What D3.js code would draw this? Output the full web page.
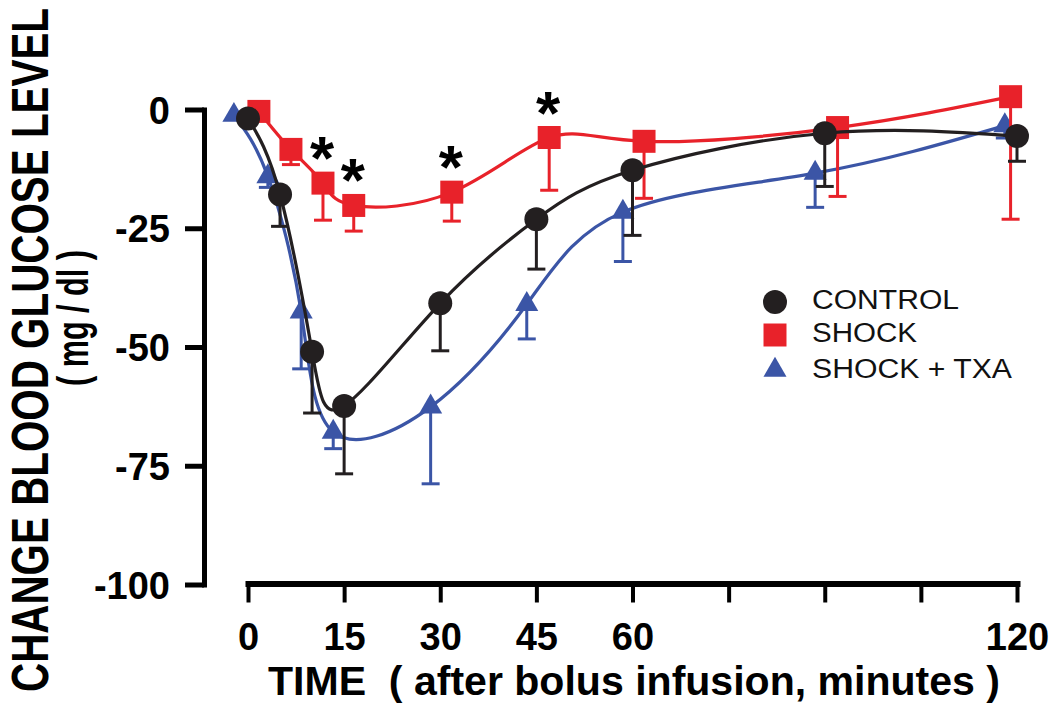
<!DOCTYPE html>
<html><head><meta charset="utf-8">
<script src="https://cdn.jsdelivr.net/npm/d3@7"></script>
<style>
body{margin:0;background:#fff}
svg{display:block}
text{font-family:"Liberation Sans",Arial,Helvetica,sans-serif}
</style>
</head><body>
<svg id="chart" width="1050" height="706"></svg>
<script>
// ---- data ----
const xTicks = [0, 15, 30, 45, 60, 75, 90, 105, 120];
const xTickLabels = ["0", "15", "30", "45", "60", "", "", "", "120"];
const yTicks = [0, -25, -50, -75, -100];
const yTickLabels = ["0", "-25", "-50", "-75", "-100"];
const seriesNames = ["CONTROL", "SHOCK", "SHOCK + TXA"];

const controlTime = [0, 5, 10, 15, 30, 45, 60, 90, 120];
const controlMean = [-1.9, -17.9, -51, -62.4, -40.8, -23.1, -12.8, -5, -5.6];
const controlSem  = [0, 6.7, 12.9, 14.3, 10, 10.5, 13.7, 11.2, 5.3];

const shockTime = [1.7, 6.7, 11.7, 16.5, 31.8, 47, 61.8, 92, 119];
const shockMean = [-0.4, -8.4, -15.5, -20.2, -17.4, -5.9, -6.7, -3.8, 2.7];
const shockSem  = [0, 3.2, 7.8, 5.4, 6.1, 11.1, 12, 14.5, 25.8];

const txaTime = [-2.2, 3.1, 8.3, 13.3, 28.5, 43.5, 58.5, 88.5, 118.1];
const txaMean = [-1.2, -14.1, -42.6, -67.9, -62.6, -41, -21.6, -13.4, -3.4];
const txaSem  = [0, 2.3, 12, 3.5, 16.2, 7.3, 10.4, 7.2, 2.6];

const sigShockIdx = [2, 3, 4, 5];   // points marked with *

const xTitle = "TIME  ( after bolus infusion, minutes )";
const yTitle1 = "CHANGE BLOOD GLUCOSE LEVEL";
const yTitle2 = "( mg / dl )";

// ---- drawing ----
const svg = d3.select("#chart");
const black = "#231f20", red = "#e8222a", blue = "#3b55a6";

const x = d3.scaleLinear().domain([0, 120]).range([248, 1017]);
const y = d3.scaleLinear().domain([0, -100]).range([109.5, 584.5]);

// y axis
const yAxis = svg.append("g").attr("transform", "translate(204,0)")
  .call(d3.axisLeft(y).tickValues(yTicks).tickSize(19).tickSizeOuter(0)
    .tickFormat((d, i) => yTickLabels[i]));
yAxis.select(".domain").attr("stroke", "#000").attr("stroke-width", 5).attr("stroke-linecap", "square");
yAxis.selectAll(".tick line").attr("stroke", "#000").attr("stroke-width", 5);
yAxis.selectAll(".tick text").attr("x", -34).attr("dy", "0.36em")
  .attr("font-size", 38).attr("font-weight", "bold").attr("fill", "#000")
  .style("font-family", '"Liberation Sans",Arial,sans-serif');

// x axis
const xAxis = svg.append("g").attr("transform", "translate(0,583.5)")
  .call(d3.axisBottom(x).tickValues(xTicks).tickSize(19).tickSizeOuter(0)
    .tickFormat((d, i) => xTickLabels[i]));
xAxis.select(".domain").attr("stroke", "#000").attr("stroke-width", 6).attr("stroke-linecap", "square");
xAxis.selectAll(".tick line").attr("stroke", "#000").attr("stroke-width", 4);
xAxis.selectAll(".tick text").attr("y", 66.5).attr("dy", 0)
  .attr("font-size", 38).attr("font-weight", "bold").attr("fill", "#000")
  .style("font-family", '"Liberation Sans",Arial,sans-serif');

// titles
svg.append("text").attr("x", 268).attr("y", 695)
  .attr("font-size", 40).attr("font-weight", "bold").attr("fill", "#000")
  .attr("textLength", 732).attr("lengthAdjust", "spacingAndGlyphs")
  .style("white-space", "pre").text(xTitle);

svg.append("text").attr("transform", "translate(48,350) rotate(-90)")
  .attr("text-anchor", "middle").attr("font-size", 51).attr("font-weight", "bold").attr("fill", "#000")
  .attr("textLength", 684).attr("lengthAdjust", "spacingAndGlyphs")
  .text(yTitle1);
svg.append("text").attr("transform", "translate(88,318) rotate(-90)")
  .attr("text-anchor", "middle").attr("font-size", 44).attr("font-weight", "bold").attr("fill", "#000")
  .attr("textLength", 136).attr("lengthAdjust", "spacingAndGlyphs")
  .text(yTitle2);

// series
const series = [
  {name: seriesNames[2], t: txaTime, m: txaMean, s: txaSem, color: blue, sym: d3.symbolTriangle, size: 230},
  {name: seriesNames[1], t: shockTime, m: shockMean, s: shockSem, color: red, sym: d3.symbolSquare, size: 529},
  {name: seriesNames[0], t: controlTime, m: controlMean, s: controlSem, color: black, sym: d3.symbolCircle, size: 452},
];

const line = d3.line().x(d => x(d.t)).y(d => y(d.m)).curve(d3.curveNatural);

series.forEach(S => {
  const pts = S.t.map((t, i) => ({t, m: S.m[i], s: S.s[i]}));
  const g = svg.append("g");
  g.append("path").datum(pts).attr("d", line)
    .attr("fill", "none").attr("stroke", S.color).attr("stroke-width", 3.2);
  const eb = g.selectAll(".eb").data(pts.filter(p => p.s > 0)).join("g");
  eb.append("line").attr("x1", d => x(d.t)).attr("x2", d => x(d.t))
    .attr("y1", d => y(d.m)).attr("y2", d => y(d.m - d.s))
    .attr("stroke", S.color).attr("stroke-width", 3);
  eb.append("line").attr("x1", d => x(d.t) - 9).attr("x2", d => x(d.t) + 9)
    .attr("y1", d => y(d.m - d.s)).attr("y2", d => y(d.m - d.s))
    .attr("stroke", S.color).attr("stroke-width", 3);
  g.selectAll(".mk").data(pts).join("path")
    .attr("transform", d => `translate(${x(d.t)},${y(d.m)})`)
    .attr("d", d3.symbol(S.sym, S.size)).attr("fill", S.color);
});

// significance asterisks
svg.selectAll(".star").data(sigShockIdx).join("text")
  .attr("x", i => x(shockTime[i]) - 1).attr("y", i => y(shockMean[i]) - 37 + 33)
  .attr("text-anchor", "middle").attr("font-size", 62).attr("font-weight", "bold").attr("fill", "#000")
  .text("*");

// legend
const legendOrder = [
  {name: seriesNames[0], sym: d3.symbolCircle, size: 452, color: black, len: 147},
  {name: seriesNames[1], sym: d3.symbolSquare, size: 529, color: red, len: 105},
  {name: seriesNames[2], sym: d3.symbolTriangle, size: 230, color: blue, len: 200},
];
const lg = svg.append("g").attr("transform", "translate(775,302)");
legendOrder.forEach((L, i) => {
  const yy = [0, 33, 68][i];
  lg.append("path").attr("transform", `translate(0,${yy})`)
    .attr("d", d3.symbol(L.sym, L.size)).attr("fill", L.color);
  lg.append("text").attr("x", 37).attr("y", yy + 7 + (i === 2 ? 1 : 0))
    .attr("font-size", 27).attr("fill", "#111")
    .attr("textLength", L.len).attr("lengthAdjust", "spacingAndGlyphs")
    .text(L.name);
});
</script>
</body></html>
